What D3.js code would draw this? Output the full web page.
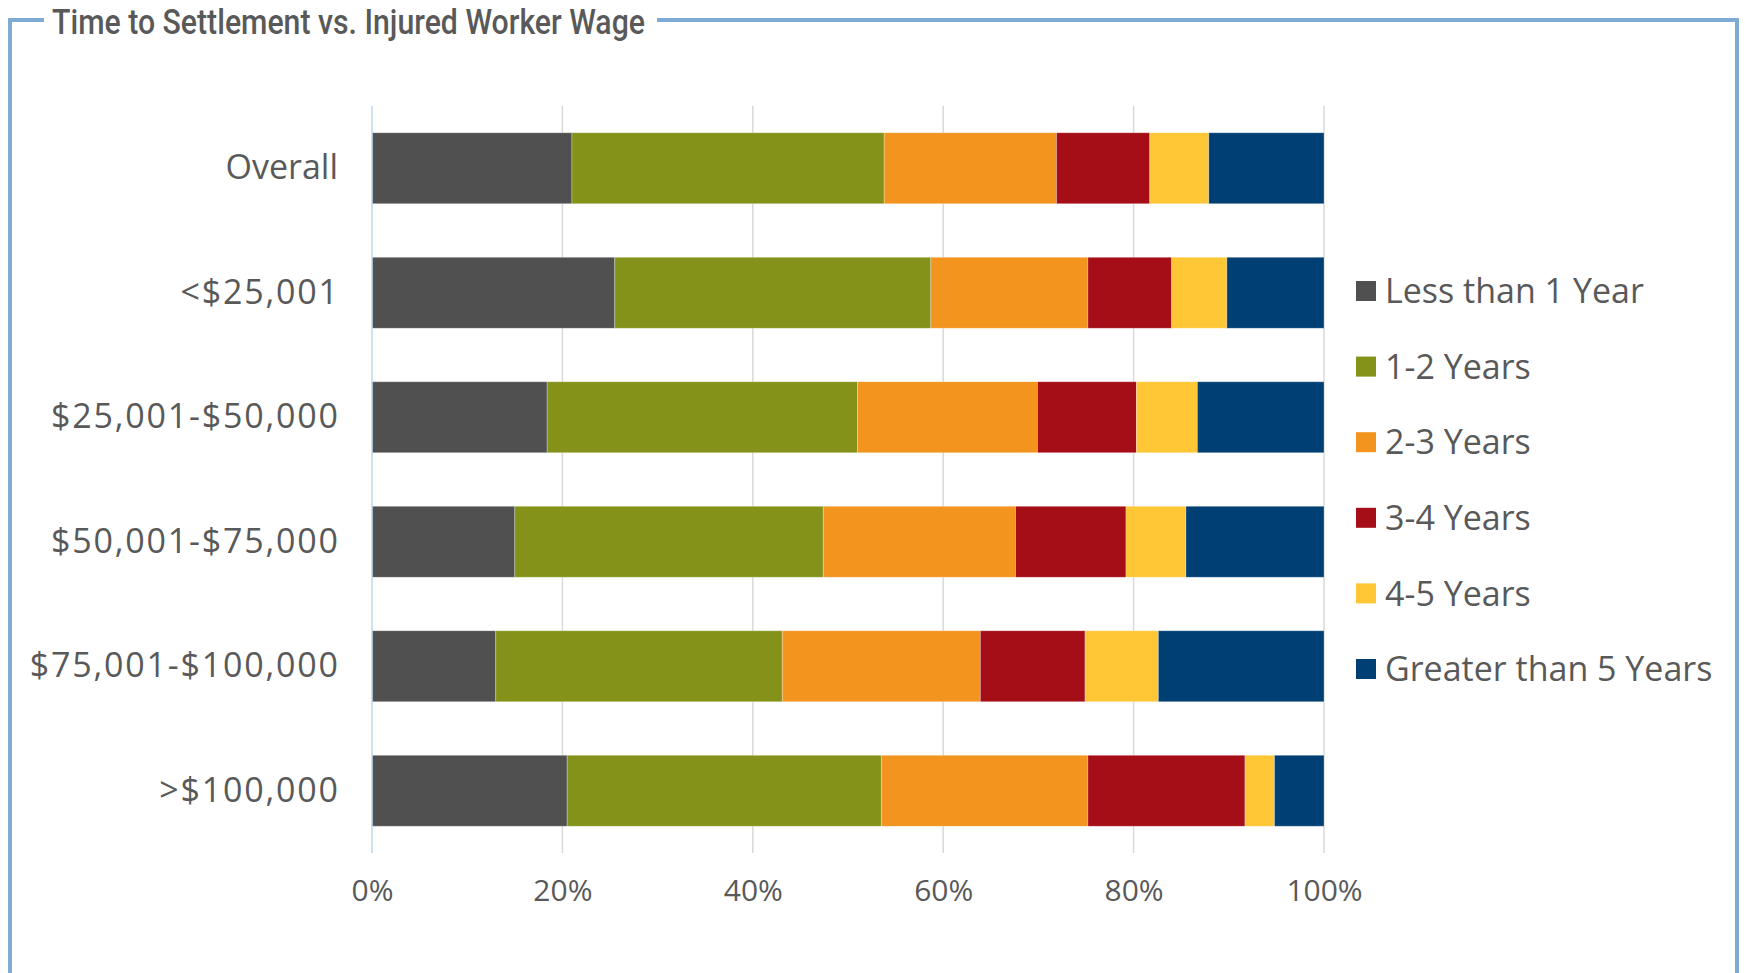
<!DOCTYPE html>
<html>
<head>
<meta charset="utf-8">
<script src="https://cdn.jsdelivr.net/npm/d3@7"></script>
<style>
  html, body { margin: 0; padding: 0; background: #fff; }
  svg { display: block; }
  text { font-family: 'Open Sans', sans-serif; fill: #595959; }
</style>
</head>
<body>
<svg id="chart" width="1745" height="973"></svg>
<script>
// data (percent of claims per wage band)
const categories = ['Overall', '<$25,001', '$25,001-$50,000', '$50,001-$75,000', '$75,001-$100,000', '>$100,000'];
const seriesNames = ['Less than 1 Year', '1-2 Years', '2-3 Years', '3-4 Years', '4-5 Years', 'Greater than 5 Years'];
const lessThan1 = [21.0, 25.5, 18.4, 15.0, 13.0, 20.5];
const years1to2 = [32.8, 33.2, 32.6, 32.4, 30.1, 33.0];
const years2to3 = [18.1, 16.5, 18.9, 20.2, 20.8, 21.7];
const years3to4 = [9.8, 8.8, 10.4, 11.6, 11.0, 16.5];
const years4to5 = [6.2, 5.8, 6.4, 6.3, 7.7, 3.1];
const over5 = [12.1, 10.2, 13.3, 14.5, 17.4, 5.2];
const tickValues = [0, 20, 40, 60, 80, 100];
const colors = ['#505050', '#849219', '#f2941e', '#a50e16', '#ffc735', '#003f74'];

const seriesValues = [lessThan1, years1to2, years2to3, years3to4, years4to5, over5];

let table = categories.map((c, i) => {
	let row = { cat: c };
	seriesNames.forEach((s, j) => { row[s] = seriesValues[j][i]; });
	return row;
});

let svg = d3.select('#chart');

// outer frame with a gap for the title
svg.append('rect')
	.attr('x', 10).attr('y', 20)
	.attr('width', 1727).attr('height', 965)
	.attr('fill', 'none')
	.attr('stroke', '#7eaad4')
	.attr('stroke-width', 4);

svg.append('rect')
	.attr('x', 44).attr('y', 10)
	.attr('width', 613).attr('height', 20)
	.attr('fill', '#fff');

svg.append('text')
	.attr('x', 52).attr('y', 34)
	.attr('textLength', 593)
	.attr('lengthAdjust', 'spacingAndGlyphs')
	.style('font-family', 'Roboto, sans-serif')
	.style('font-weight', 500)
	.style('font-size', '35px')
	.text('Time to Settlement vs. Injured Worker Wage');

let x = d3.scaleLinear().domain([0, 100]).range([372, 1324]);
let y = d3.scaleBand().domain(categories).range([106, 853])
	.paddingInner(0.43).paddingOuter(0.215);

// gridlines
svg.append('g')
	.selectAll('line')
	.data(tickValues.slice(1))
	.enter().append('line')
	.attr('x1', d => x(d)).attr('x2', d => x(d))
	.attr('y1', 106).attr('y2', 853)
	.attr('stroke', '#d9d9d9')
	.attr('stroke-width', 1.5);

let stack = d3.stack().keys(seriesNames);
let layers = stack(table);

svg.append('g')
	.selectAll('g')
	.data(layers)
	.enter().append('g')
	.attr('fill', (d, i) => colors[i])
	.selectAll('rect')
	.data(d => d)
	.enter().append('rect')
	.attr('x', d => x(d[0]))
	.attr('y', d => y(d.data.cat))
	.attr('width', d => x(d[1]) - x(d[0]))
	.attr('height', y.bandwidth())
	.attr('stroke', 'rgba(255,255,255,0.35)')
	.attr('stroke-width', 0.8);

// vertical axis line
svg.append('line')
	.attr('x1', x(0)).attr('x2', x(0))
	.attr('y1', 106).attr('y2', 853)
	.attr('stroke', '#bdd7ee')
	.attr('stroke-width', 1.5);

// category labels (the money labels have wider figures in the original font)
let yAxis = svg.append('g')
	.attr('transform', `translate(${x(0)},0)`)
	.call(d3.axisLeft(y).tickSize(0).tickPadding(34));
yAxis.select('.domain').remove();
yAxis.selectAll('text')
	.style('font-family', "'Open Sans', sans-serif")
	.style('font-size', '34px')
	.style('letter-spacing', d => d.includes('$') ? '1.8px' : '0px')
	.attr('dx', d => d.includes('$') ? 1.8 : 0)
	.attr('fill', '#595959');

// percent labels
let xAxis = svg.append('g')
	.attr('transform', 'translate(0,853)')
	.call(d3.axisBottom(x).tickValues(tickValues).tickSize(0).tickPadding(27)
		.tickFormat(d => d + '%'));
xAxis.select('.domain').remove();
xAxis.selectAll('text')
	.style('font-family', "'Open Sans', sans-serif")
	.style('font-size', '30px')
	.attr('fill', '#595959');

// legend
let legend = svg.append('g')
	.selectAll('g')
	.data(seriesNames)
	.enter().append('g')
	.attr('transform', (d, i) => `translate(1356,${291 + i * 75.6})`);

legend.append('rect')
	.attr('x', 0).attr('y', -10)
	.attr('width', 20).attr('height', 20)
	.attr('fill', (d, i) => colors[i]);

legend.append('text')
	.attr('x', 29).attr('y', 0)
	.attr('dy', '0.36em')
	.style('font-size', '34px')
	.text(d => d);
</script>
</body>
</html>
